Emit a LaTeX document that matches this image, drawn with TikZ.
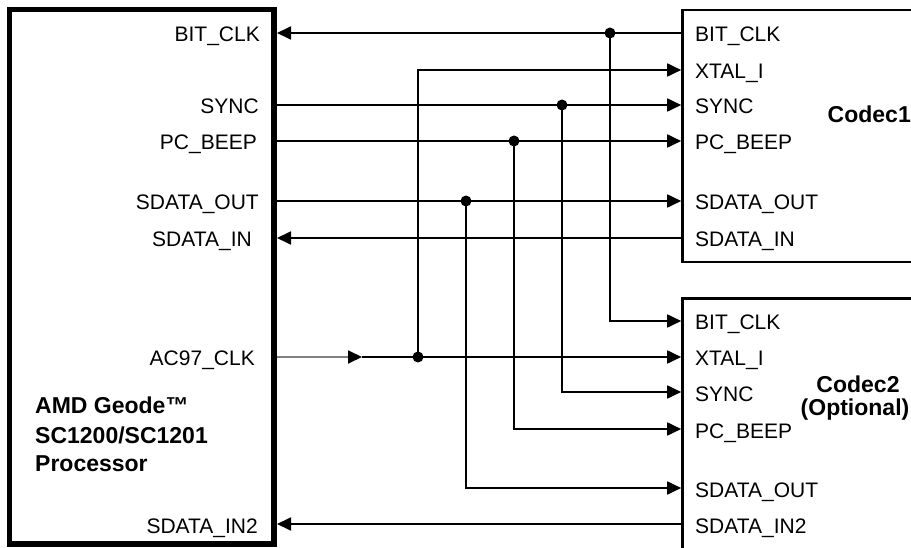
\documentclass[tikz,border=0pt]{standalone}
\usepackage{fontspec}
\setmainfont{Liberation Sans}
\usetikzlibrary{arrows.meta}
\begin{document}
\begin{tikzpicture}[x=1pt,y=-1pt,
  wire/.style={line width=1.8pt},
  arr/.style={wire,-{Triangle[length=14pt,width=13pt]}},
  dotj/.style={circle,fill=black,inner sep=0pt,minimum size=11pt},
  pinl/.style={font=\fontsize{21}{24}\selectfont,inner sep=0pt,anchor=base east},
  pinr/.style={font=\fontsize{21}{24}\selectfont,inner sep=0pt,anchor=base west},
  ttl/.style={font=\fontsize{23}{28}\selectfont\bfseries,inner sep=0pt}]
\clip (0,0) rectangle (911,548);
% boxes
\draw[line width=5.5pt] (9.5,9.5) rectangle (274,544);
\draw[line width=2.8pt] (682.5,10) rectangle (960,262);
\draw[line width=2.8pt] (682.5,298.5) rectangle (960,580);
% processor pin coordinates
\coordinate (pBIT) at (277,33);
\coordinate (pSYNC) at (277,105);
\coordinate (pBEEP) at (277,141);
\coordinate (pOUT) at (277,201);
\coordinate (pIN) at (277,238);
\coordinate (pAC) at (277,357);
\coordinate (pIN2) at (277,524);
% codec1 pins
\coordinate (aBIT) at (681.2,33);
\coordinate (aXTAL) at (681.2,70);
\coordinate (aSYNC) at (681.2,105);
\coordinate (aBEEP) at (681.2,141);
\coordinate (aOUT) at (681.2,201);
\coordinate (aIN) at (681.2,238);
% codec2 pins
\coordinate (bBIT) at (681.2,321);
\coordinate (bXTAL) at (681.2,357);
\coordinate (bSYNC) at (681.2,392);
\coordinate (bBEEP) at (681.2,429);
\coordinate (bOUT) at (681.2,488);
\coordinate (bIN2) at (681.2,524);
% junctions
\node[dotj] (jBIT) at (610,33) {};
\node[dotj] (jSYNC) at (562,105) {};
\node[dotj] (jBEEP) at (514,141) {};
\node[dotj] (jOUT) at (466,201) {};
\node[dotj] (jAC) at (418,357) {};
\coordinate (acTip) at (362,357);
\coordinate (xCorner) at (418,70);
% wires
\draw[arr] (aBIT) -- (pBIT);
\draw[arr] (jBIT.center) |- (bBIT);
\draw[arr] (pSYNC) -- (aSYNC);
\draw[arr] (jSYNC.center) |- (bSYNC);
\draw[arr] (pBEEP) -- (aBEEP);
\draw[arr] (jBEEP.center) |- (bBEEP);
\draw[arr] (pOUT) -- (aOUT);
\draw[arr] (jOUT.center) |- (bOUT);
\draw[arr] (aIN) -- (pIN);
\draw[arr] (bIN2) -- (pIN2);
\draw[wire,color=gray,-{Triangle[length=14pt,width=13pt,color=black]}] (pAC) -- (acTip);
\draw[arr] (acTip) -- (bXTAL);
\draw[arr] (jAC.center) -- (xCorner) -- (aXTAL);
% processor labels
\node[pinl] (tpBIT) at (260,41.5) {BIT\_CLK};
\node[pinl] (tpSYNC) at (259,114) {SYNC};
\node[pinl] (tpBEEP) at (257,150) {PC\_BEEP};
\node[pinl] (tpOUT) at (259,210) {SDATA\_OUT};
\node[pinl] (tpIN) at (252,247) {SDATA\_IN};
\node[pinl] (tpAC) at (255,366) {AC97\_CLK};
\node[pinl] (tpIN2) at (258,533) {SDATA\_IN2};
% codec1 labels
\node[pinr] (taBIT) at (695,41.5) {BIT\_CLK};
\node[pinr] (taXTAL) at (695,79) {XTAL\_I};
\node[pinr] (taSYNC) at (695,114) {SYNC};
\node[pinr] (taBEEP) at (695,150) {PC\_BEEP};
\node[pinr] (taOUT) at (695,210) {SDATA\_OUT};
\node[pinr] (taIN) at (695,247) {SDATA\_IN};
% codec2 labels
\node[pinr] (tbBIT) at (695,330) {BIT\_CLK};
\node[pinr] (tbXTAL) at (695,366) {XTAL\_I};
\node[pinr] (tbSYNC) at (695,401) {SYNC};
\node[pinr] (tbBEEP) at (695,438) {PC\_BEEP};
\node[pinr] (tbOUT) at (695,497) {SDATA\_OUT};
\node[pinr] (tbIN2) at (695,533) {SDATA\_IN2};
% titles
\node[ttl,anchor=base east] (tCodec1) at (911,122.5) {Codec1};
\node[ttl,anchor=base] (tCodec2) at (858,392.3) {Codec2};
\node[ttl,anchor=base] (tOpt) at (855,415.5) {(Optional)};
\node[ttl,anchor=base west] (tAMD) at (35,413) {AMD Geode™};
\node[ttl,anchor=base west] (tSC) at (35,443) {SC1200/SC1201};
\node[ttl,anchor=base west] (tProc) at (35,471) {Processor};
\end{tikzpicture}
\end{document}
